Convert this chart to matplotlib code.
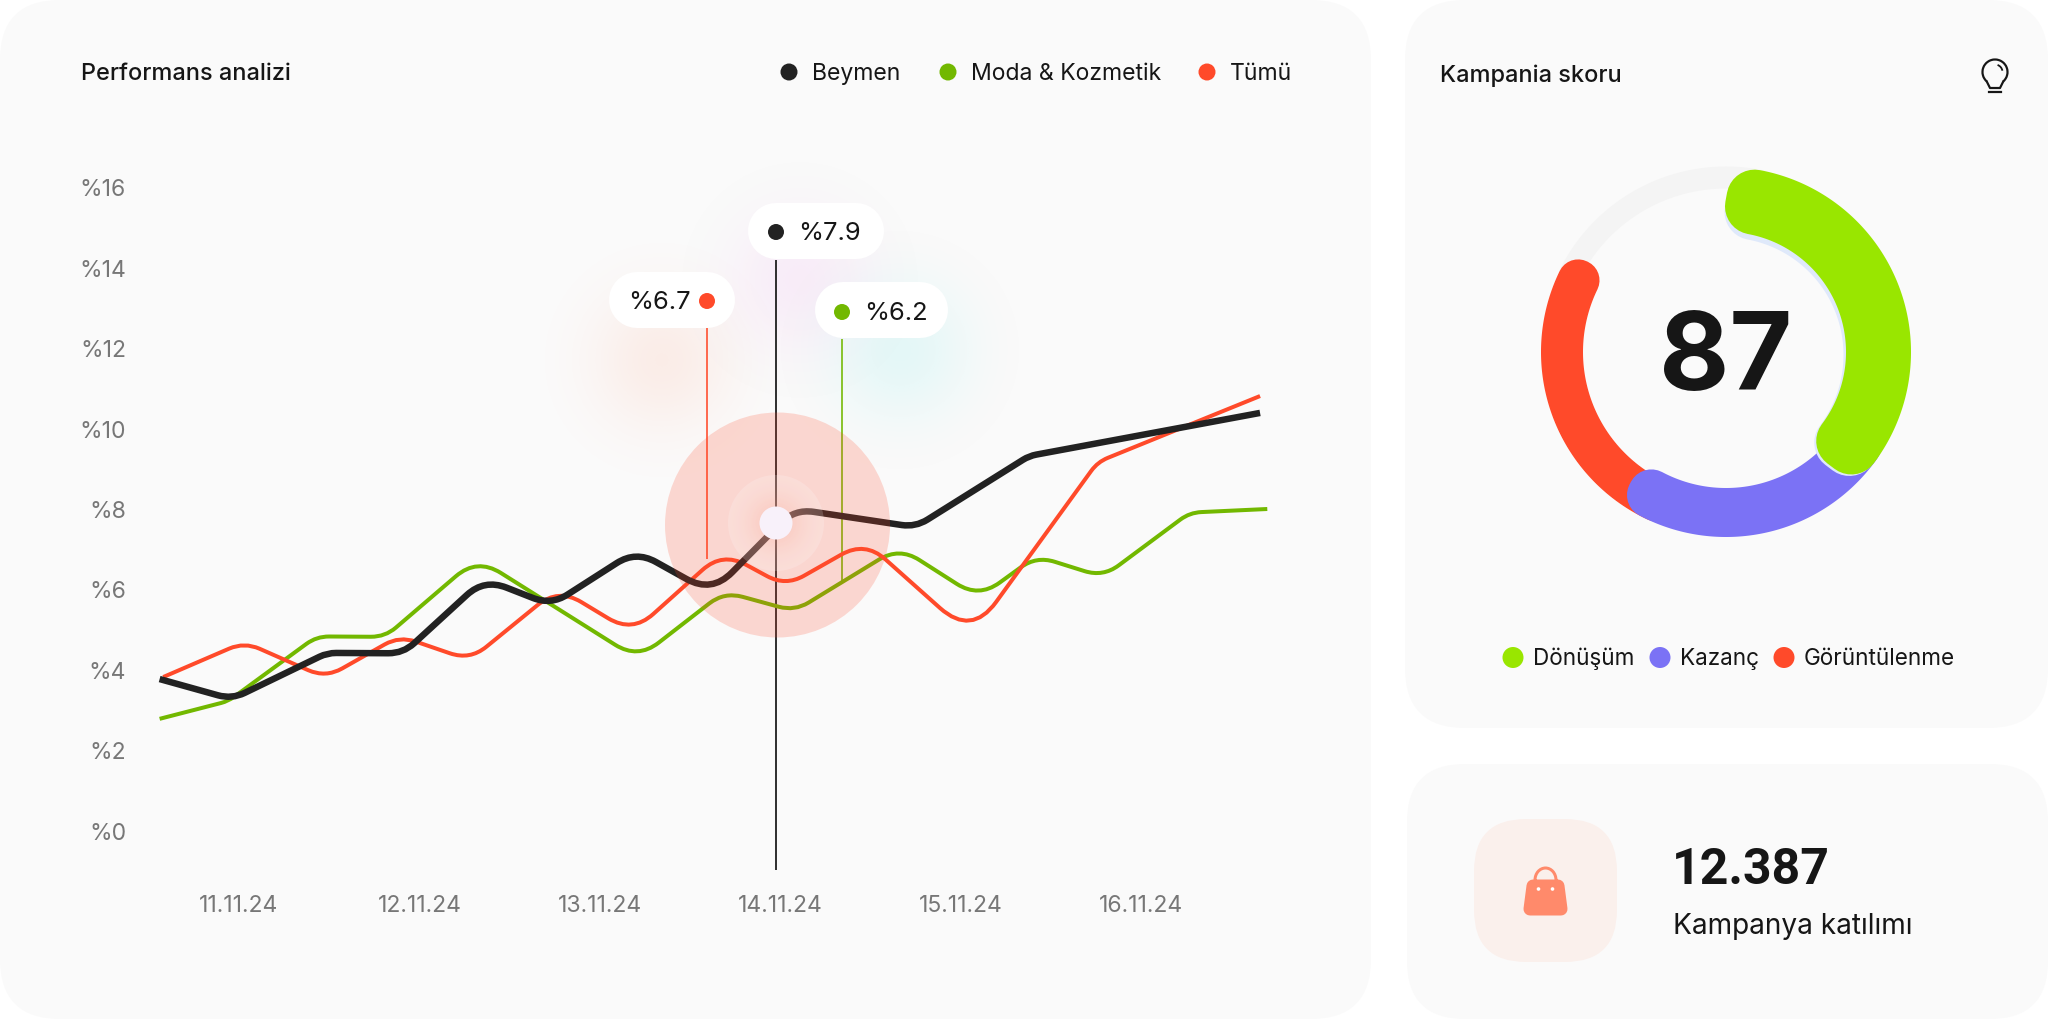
"""Kampanya paneli: performans grafiği, skor halkası, katılım kartı."""

import matplotlib
matplotlib.use("Agg")
import matplotlib.pyplot as plt
import numpy as np
from matplotlib.patches import Circle, FancyBboxPatch, PathPatch, Polygon, Arc
from matplotlib.path import Path

W, H = 2048, 1019
DPI = 100
plt.rcParams["font.family"] = ["Inter", "Noto Sans", "DejaVu Sans"]

# --- Veriler ---------------------------------------------------------------
DATES = ["11.11.24", "12.11.24", "13.11.24", "14.11.24", "15.11.24", "16.11.24"]
Y_TICKS = [0, 2, 4, 6, 8, 10, 12, 14, 16]

BEYMEN_X = [-0.44, -0.04, 0.49, 0.91, 1.36, 1.73, 2.20, 2.62, 3.08, 3.75, 4.38, 5.66]
BEYMEN_Y = [3.78, 3.28, 4.43, 4.42, 6.27, 5.62, 6.97, 5.92, 8.01, 7.56, 9.33, 10.40]

TUMU_X = [-0.42, 0.03, 0.48, 0.89, 1.28, 1.77, 2.18, 2.68, 3.03, 3.47, 4.06, 4.76, 5.66]
TUMU_Y = [3.83, 4.70, 3.81, 4.85, 4.25, 6.04, 4.93, 6.94, 6.09, 7.21, 4.85, 9.18, 10.82]

MODA_X = [-0.44, -0.06, 0.43, 0.81, 1.32, 2.21, 2.69, 3.08, 3.66, 4.10, 4.42, 4.79, 5.27, 5.70]
MODA_Y = [2.79, 3.23, 4.84, 4.83, 6.79, 4.28, 5.95, 5.47, 7.06, 5.80, 6.84, 6.32, 7.92, 8.01]

LEGEND_LABELS = ["Beymen", "Moda & Kozmetik", "Tümü"]
TOOLTIP_LABELS = ["%7.9", "%6.7", "%6.2"]
SCORE = "87"
SCORE_LABELS = ["Dönüşüm", "Kazanç", "Görüntülenme"]
# Halka dilimleri: saat yönünde, tepeden derece olarak başlangıç/bitiş
RING_START = [10.5, 125, 205]
RING_END = [127, 208, 296]
RING_TRACK = [296, 372]

BLACK, GREEN, RED = "#222222", "#72B800", "#FF4A2A"
LIME, PURPLE = "#99E600", "#7B72F5"
CARD = "#FAFAFA"
TICK = "#777777"
INK = "#161616"


def px(v):
    """Piksel → punkt (dpi=100)."""
    return v * 72 / DPI


def px_axes(fig, zorder):
    """Tüm figürü kaplayan, piksel koordinatlı eksen."""
    ax = fig.add_axes([0, 0, 1, 1], zorder=zorder)
    ax.set_xlim(0, W)
    ax.set_ylim(H, 0)
    ax.axis("off")
    ax.patch.set_alpha(0)
    return ax


def card(ax, x0, y0, x1, y1, r=60, color=CARD):
    ax.add_patch(FancyBboxPatch((x0, y0), x1 - x0, y1 - y0, lw=0, fc=color,
                                boxstyle=f"round,pad=0,rounding_size={r}"))


def glow(ax, cx, cy, r, rgb, alpha, k=3.0):
    """Yumuşak renkli hale."""
    n = 200
    u, v = np.meshgrid(np.linspace(-1, 1, n), np.linspace(-1, 1, n))
    img = np.zeros((n, n, 4))
    img[..., :3] = matplotlib.colors.to_rgb(rgb)
    img[..., 3] = alpha * np.clip(np.exp(-(u ** 2 + v ** 2) * k) - np.exp(-k), 0, 1)
    ax.imshow(img, extent=(cx - r, cx + r, cy + r, cy - r), aspect="auto", zorder=1)


def rounded_line(ax, xs, ys, color, lw_px, radius=38, zorder=3):
    """Köşeleri yay gibi yuvarlatılmış çizgi: dar köşede kısa, keskin köşede uzun kesim."""
    inv = ax.transData.inverted()
    pts = ax.transData.transform(np.column_stack([xs, ys]))
    verts, codes = [pts[0]], [Path.MOVETO]
    for i in range(1, len(pts) - 1):
        a, b, c = pts[i - 1], pts[i], pts[i + 1]
        la, lc = np.linalg.norm(a - b), np.linalg.norm(c - b)
        turn = np.arccos(np.clip(np.dot(b - a, c - b) / (la * lc), -1, 1))
        cut = radius * np.tan(turn / 2)
        ca = min(cut, la / 2)
        cc = min(cut, lc / 2)
        verts += [b + (a - b) * ca / la, b, b + (c - b) * cc / lc]
        codes += [Path.LINETO, Path.CURVE3, Path.CURVE3]
    verts.append(pts[-1])
    codes.append(Path.LINETO)
    path = Path(inv.transform(np.array(verts)), codes)
    ax.add_patch(PathPatch(path, fc="none", ec=color, lw=px(lw_px), zorder=zorder,
                           capstyle="butt", joinstyle="round"))


def pill(ax, x0, y0, x1, y1):
    h = y1 - y0
    ax.plot([x0 + h / 2, x1 - h / 2], [y0 + h / 2, y0 + h / 2], color="white", lw=px(h),
            solid_capstyle="round", zorder=5)


def ring_sector(ax, start, end, r, width, corner, color, zorder, dy=0):
    """Halka dilimi: içe çekilmiş kesit + yuvarlak birleşimli kenar = yumuşak köşe."""
    ang = np.radians(np.linspace(start, end, 160))
    r_out, r_in = r + width / 2 - corner, r - width / 2 + corner
    xs = np.r_[r_out * np.sin(ang), r_in * np.sin(ang[::-1])]
    ys = np.r_[r_out * np.cos(ang), r_in * np.cos(ang[::-1])] + dy
    ax.add_patch(Polygon(np.column_stack([xs, ys]), closed=True, fc=color, ec=color,
                         lw=px(2 * corner), joinstyle="round", zorder=zorder))


fig = plt.figure(figsize=(W / DPI, H / DPI), dpi=DPI, facecolor="white")
bg = px_axes(fig, 0)

# Kartlar
card(bg, 0, 0, 1371, 1019)
card(bg, 1405, 0, 2048, 728)
card(bg, 1407, 764, 2048, 1019, r=58)

# Baloncukların arkasındaki haleler
glow(bg, 662, 360, 125, "#FFB49A", 0.20)
glow(bg, 800, 280, 125, "#F2B8F0", 0.22)
glow(bg, 900, 350, 125, "#A8F0F0", 0.28)
bg.set_xlim(0, W)
bg.set_ylim(H, 0)

# --- Çizgi grafik ----------------------------------------------------------
left, right, top, bottom = 135, 1300, 150, 870
ax = fig.add_axes([left / W, 1 - bottom / H, (right - left) / W, (bottom - top) / H], zorder=1)
ax.patch.set_alpha(0)
ax.set_xlim((left - 239) / 180.4, (right - 239) / 180.4)
ax.set_ylim((831 - bottom) / 40.2, (831 - top) / 40.2)
for s in ax.spines.values():
    s.set_visible(False)
ax.set_xticks(range(len(DATES)), DATES)
ax.set_yticks(Y_TICKS, [f"%{v}" for v in Y_TICKS])
ax.tick_params(axis="y", length=0, pad=px(9), labelsize=px(23), labelcolor=TICK)
ax.tick_params(axis="x", length=0, pad=px(25), labelsize=px(23), labelcolor=TICK)

rounded_line(ax, MODA_X, MODA_Y, GREEN, 4, zorder=3)
rounded_line(ax, TUMU_X, TUMU_Y, RED, 4, zorder=4)
rounded_line(ax, BEYMEN_X, BEYMEN_Y, BLACK, 6.5, zorder=5)

# Baloncuk saplari
ax.vlines(2.977, ax.get_ylim()[0], 14.2, color="#333333", lw=px(2), zorder=2)
ax.vlines(2.594, 6.76, 12.5, color=RED, lw=px(1.6), zorder=2)
ax.vlines(3.343, 6.2, 12.25, color=GREEN, lw=px(1.6), zorder=2)

# --- Üst katman ------------------------------------------------------------
top_ax = px_axes(fig, 2)
top_ax.add_patch(Circle((777.5, 525), 112.5, fc=RED, alpha=0.2, lw=0, zorder=2))
top_ax.add_patch(Circle((776, 523), 48, fc="white", alpha=0.18, lw=0, zorder=3))
glow(top_ax, 776, 523, 48, "#FF8A70", 0.28)
top_ax.add_patch(Circle((776, 523), 16.5, fc="#F8F1FA", lw=0, zorder=4))
top_ax.set_xlim(0, W)
top_ax.set_ylim(H, 0)

tip_fs = px(25.5)
pill(top_ax, 748, 203, 884, 259)
top_ax.add_patch(Circle((776, 232), 8, fc=BLACK, lw=0, zorder=6))
top_ax.text(798, 233.5, TOOLTIP_LABELS[0], fontsize=tip_fs, color=INK, va="center", zorder=6)
pill(top_ax, 609, 272, 735, 328)
top_ax.add_patch(Circle((707, 301), 8, fc=RED, lw=0, zorder=6))
top_ax.text(628, 302.5, TOOLTIP_LABELS[1], fontsize=tip_fs, color=INK, va="center", zorder=6)
pill(top_ax, 815, 282, 948, 338)
top_ax.add_patch(Circle((842, 312), 8, fc=GREEN, lw=0, zorder=6))
top_ax.text(864, 313.5, TOOLTIP_LABELS[2], fontsize=tip_fs, color=INK, va="center", zorder=6)
top_ax.set_xlim(0, W)
top_ax.set_ylim(H, 0)

# Başlık ve açıklama
bg.text(81, 74, "Performans analizi", fontsize=px(23.5), fontweight="medium", color=INK, va="center")
for dot_x, text_x, color, label in zip((789, 948, 1207), (812, 971, 1230),
                                       (BLACK, GREEN, RED), LEGEND_LABELS):
    bg.add_patch(Circle((dot_x, 72), 8.5, fc=color, lw=0))
    bg.text(text_x, 74, label, fontsize=px(23), color=INK, va="center")

# --- Skor halkası ----------------------------------------------------------
bg.text(1440, 76, "Kampania skoru", fontsize=px(23.5), fontweight="medium", color=INK, va="center")
gauge = fig.add_axes([(1726 - 200) / W, 1 - (352 + 200) / H, 400 / W, 400 / H], zorder=1)
gauge.set_xlim(-200, 200)
gauge.set_ylim(-200, 200)
gauge.axis("off")
gauge.patch.set_alpha(0)
ring_sector(gauge, RING_TRACK[0], RING_TRACK[1], 174.5, 22, 1, "#F4F4F4", 1)
ring_sector(gauge, RING_START[2], RING_END[2], 164, 42, 20.5, RED, 2)
ring_sector(gauge, RING_START[1], RING_END[1], 160.5, 49, 23, PURPLE, 3)
ring_sector(gauge, RING_START[0], RING_END[0], 150, 65, 28, "#DFE9FA", 4, dy=-3)
ring_sector(gauge, RING_START[0], RING_END[0], 152.5, 65, 28, LIME, 5)
gauge.text(0, -9, SCORE, fontsize=px(108), fontweight="bold", color=INK, ha="center", va="center", zorder=6)

for dot_x, text_x, color, label in zip((1513, 1660, 1784), (1533, 1680, 1804),
                                       (LIME, PURPLE, RED), SCORE_LABELS):
    bg.add_patch(Circle((dot_x, 657.5), 10.5, fc=color, lw=0))
    bg.text(text_x, 659, label, fontsize=px(22.5), color=INK, va="center")

# Ampul simgesi
bg.add_patch(Arc((1995, 72), 25, 25, theta1=130, theta2=50, ec=INK, lw=px(2.2)))
bg.plot([1987, 1990, 2000, 2003], [82, 88, 88, 82], color=INK, lw=px(2.2))
bg.plot([1989, 2001], [92, 92], color=INK, lw=px(2.2))
bg.add_patch(Arc((1995, 72), 15, 15, theta1=-70, theta2=-10, ec=INK, lw=px(1.8)))

# --- Katılım kartı ---------------------------------------------------------
card(bg, 1474, 819, 1617, 962, r=52, color="#FAF0EC")
bag = "#FF8A6B"
bg.add_patch(Arc((1545.5, 880), 21, 24, theta1=180, theta2=360, ec=bag, lw=px(3)))
bg.plot([1535, 1535], [880, 882], color=bag, lw=px(3))
bg.plot([1556, 1556], [880, 882], color=bag, lw=px(3))
bg.add_patch(Polygon([(1533, 886), (1558, 886), (1561, 909), (1530, 909)], closed=True,
                     fc=bag, ec=bag, lw=px(13), joinstyle="round"))
bg.add_patch(Circle((1538.5, 889), 1.8, fc="white", lw=0, zorder=3))
bg.add_patch(Circle((1552.5, 889), 1.8, fc="white", lw=0, zorder=3))
bg.set_xlim(0, W)
bg.set_ylim(H, 0)

bg.text(1672, 870, "12.387", fontsize=px(50), fontweight="bold", family="Roboto", color=INK, va="center")
bg.text(1673, 926, "Kampanya katılımı", fontsize=px(28), color=INK, va="center")

fig.savefig("out.png", dpi=DPI, facecolor="white")
